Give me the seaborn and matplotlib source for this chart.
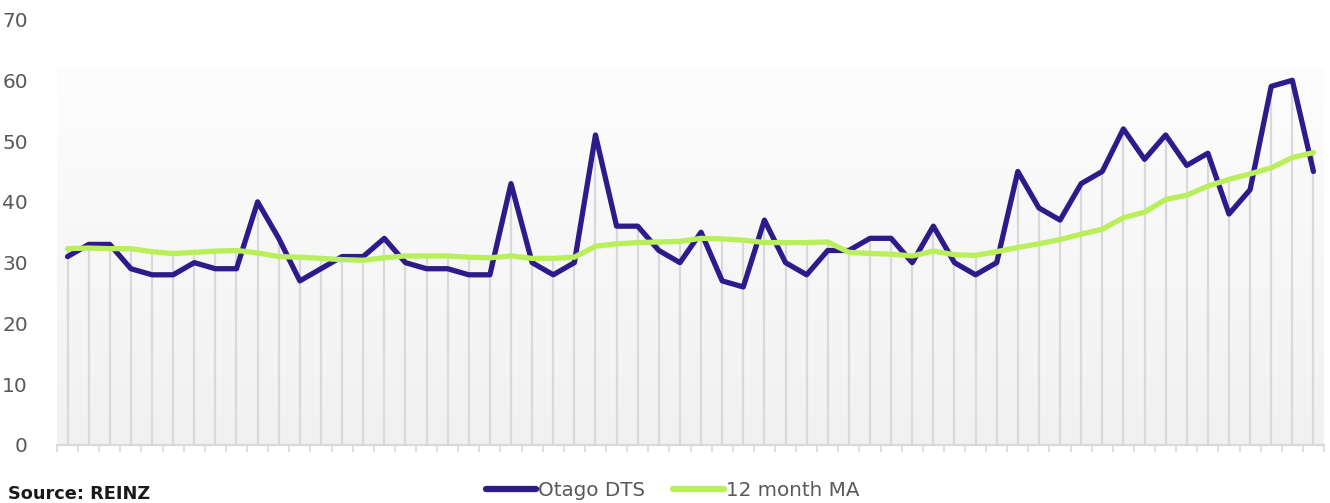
import numpy as np
import pandas as pd
import matplotlib
matplotlib.use("Agg")
import matplotlib.pyplot as plt
import seaborn as sns
from matplotlib.colors import LinearSegmentedColormap

# Monthly days-to-sell for Otago and its 12 month moving average (60 months)
otago_dts = [31, 33, 33, 29, 28, 28, 30, 29, 29, 40,
             34, 27, 29, 31, 31, 34, 30, 29, 29, 28,
             28, 43, 30, 28, 30, 51, 36, 36, 32, 30,
             35, 27, 26, 37, 30, 28, 32, 32, 34, 34,
             30, 36, 30, 28, 30, 45, 39, 37, 43, 45,
             52, 47, 51, 46, 48, 38, 42, 59, 60, 45]
ma_12 = [32.3, 32.4, 32.3, 32.3, 31.8, 31.5, 31.7, 31.9, 32.0, 31.6,
         31.0, 30.9, 30.7, 30.5, 30.4, 30.8, 31.1, 31.1, 31.1, 30.9,
         30.8, 31.1, 30.7, 30.7, 30.9, 32.7, 33.1, 33.3, 33.4, 33.5,
         34.0, 33.9, 33.7, 33.3, 33.3, 33.3, 33.4, 31.7, 31.5, 31.4,
         31.1, 31.9, 31.3, 31.2, 31.8, 32.5, 33.1, 33.8, 34.7, 35.5,
         37.4, 38.3, 40.4, 41.1, 42.6, 43.7, 44.6, 45.6, 47.3, 48.1]
series_names = ["Otago DTS", "12 month MA"]
y_ticks = [0, 10, 20, 30, 40, 50, 60, 70]
source_text = "Source: REINZ"

PURPLE = "#2f1a8c"
GREEN = "#b8ef5a"
GRID = "#d9d9d9"
LABEL = "#595959"

sns.set_theme(style="white")
plt.rcParams["font.family"] = ["DejaVu Sans"]

n = len(otago_dts)
months = np.arange(n)
df = pd.DataFrame({"month": np.concatenate([months, months]),
                   "value": otago_dts + ma_12,
                   "series": [series_names[0]] * n + [series_names[1]] * n})

fig = plt.figure(figsize=(13.3, 5.03), dpi=100)
ax = fig.add_axes([57 / 1330, 1 - 445 / 503, (1324 - 57) / 1330, 425.5 / 503])
ax.set_xlim(-0.5, n - 0.5)
ax.set_ylim(0, 70)

# soft vertical gradient behind the plot area
grad = LinearSegmentedColormap.from_list("bg", ["#f1f1f1", "#fdfdfd"])
ax.imshow(np.linspace(0, 1, 256).reshape(-1, 1), cmap=grad, origin="lower",
          extent=(-0.5, n - 0.5, 0, 62), aspect="auto", zorder=0)

# drop lines from each month's highest value to the axis
tops = np.maximum(otago_dts, ma_12)
ax.vlines(months, 0, tops, color=GRID, lw=1.6, zorder=1)

sns.lineplot(data=df, x="month", y="value", hue="series",
             palette=[PURPLE, GREEN], linewidth=3.8, ax=ax, legend=False,
             zorder=3)
for line in ax.get_lines():
    line.set_solid_capstyle("round")
    line.set_solid_joinstyle("round")

ax.set_xlabel("")
ax.set_ylabel("")
ax.set_xticks(np.arange(-0.5, n, 1.0))
ax.set_xticklabels([])
ax.tick_params(axis="x", length=5, width=1.2, color=GRID, direction="out", bottom=True)
ax.set_yticks(y_ticks)
ax.set_yticklabels([str(t) for t in y_ticks])
ax.tick_params(axis="y", length=0, pad=21, labelsize=14.5, labelcolor=LABEL)
for side in ["top", "right", "left"]:
    ax.spines[side].set_visible(False)
ax.spines["bottom"].set_color(GRID)
ax.spines["bottom"].set_linewidth(1.6)
ax.grid(False)

handles = [plt.Line2D([], [], color=PURPLE, lw=4.5, solid_capstyle="round"),
           plt.Line2D([], [], color=GREEN, lw=4.5, solid_capstyle="round")]
fig.legend(handles, series_names, loc="center", bbox_to_anchor=(0.5056, 1 - 490 / 503),
           ncol=2, frameon=False, fontsize=14.3, handlelength=2.55, handletextpad=0.1,
           columnspacing=1.4, labelcolor=LABEL)

fig.text(8 / 1330, 1 - 494 / 503, source_text, fontsize=12.8, fontweight="bold",
         color="#1a1a1a", ha="left", va="center")

fig.savefig("out.png", dpi=100, facecolor="white")
